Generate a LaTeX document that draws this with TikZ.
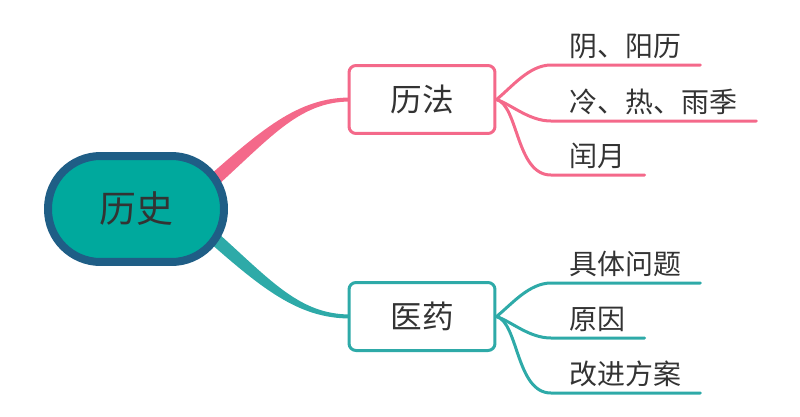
\documentclass[tikz,border=0pt]{standalone}
\usepackage{fontspec}
\setmainfont{Noto Sans CJK SC}
\usetikzlibrary{calc,backgrounds}
\definecolor{rose}{HTML}{F4698A}
\definecolor{sea}{HTML}{2EAAA8}
\definecolor{rootfill}{HTML}{00A99D}
\definecolor{rootline}{HTML}{1F5E86}
\definecolor{ink}{HTML}{333333}
\begin{document}
\begin{tikzpicture}[x=0.02cm,y=-0.02cm,
    root/.style={draw=rootline,line width=0.16cm,fill=rootfill,rounded corners=1.05cm,
      minimum width=3.52cm,minimum height=2.12cm,text=ink,font=\fontsize{21pt}{24pt}\selectfont},
    topic/.style={draw=#1,line width=0.06cm,fill=white,rounded corners=0.14cm,
      minimum width=2.92cm,minimum height=1.36cm,text=ink,font=\fontsize{18pt}{21pt}\selectfont},
    leaf/.style={anchor=south west,inner xsep=0.37cm,inner ysep=0.12cm,text=ink,
      font=\fontsize{15.9pt}{18pt}\selectfont},
    twig/.style={draw=#1,line width=0.06cm,line cap=round}]
    \useasboundingbox (0,0) rectangle (800,416);
    % nodes
    \node[root] (hist) at (136,209) {历史};
    \node[topic=rose] (lifa) at (422,99.5) {历法};
    \node[topic=sea] (yiyao) at (422,316.5) {医药};
    % thick branches
    \begin{scope}[on background layer]
    \fill[rose] ($(hist)+(65,-26)$) .. controls +(60,-53) and +(-53,0) .. ($(lifa.west)+(3,-2)$)
        -- ($(lifa.west)+(3,2)$) .. controls +(-53,0) and +(60,-53) .. ($(hist)+(73,-16)$) -- cycle;
    \fill[sea] ($(hist)+(65,26)$) .. controls +(60,53) and +(-53,0) .. ($(yiyao.west)+(3,2)$)
        -- ($(yiyao.west)+(3,-2)$) .. controls +(-53,0) and +(60,53) .. ($(hist)+(73,16)$) -- cycle;
    \end{scope}
    % leaves
    \node[leaf] (a1) at (551,65) {阴、阳历};
    \node[leaf] (a2) at (551,121) {冷、热、雨季};
    \node[leaf] (a3) at (551,175) {闰月};
    \node[leaf] (b1) at (551,283) {具体问题};
    \node[leaf] (b2) at (551,338) {原因};
    \node[leaf] (b3) at (551,393) {改进方案};
    \draw[twig=rose] (lifa.east) .. controls +(15,-12) and +(-22,0) .. (a1.south west) -- (a1.south east);
    \draw[twig=rose] (lifa.east) .. controls +(15,5) and +(-22,0) .. (a2.south west) -- (a2.south east);
    \draw[twig=rose] (lifa.east) .. controls +(22,6) and +(-35,0) .. (a3.south west) -- (a3.south east);
    \draw[twig=sea] (yiyao.east) .. controls +(15,-12) and +(-22,0) .. (b1.south west) -- (b1.south east);
    \draw[twig=sea] (yiyao.east) .. controls +(15,5) and +(-22,0) .. (b2.south west) -- (b2.south east);
    \draw[twig=sea] (yiyao.east) .. controls +(22,6) and +(-35,0) .. (b3.south west) -- (b3.south east);
\end{tikzpicture}
\end{document}
